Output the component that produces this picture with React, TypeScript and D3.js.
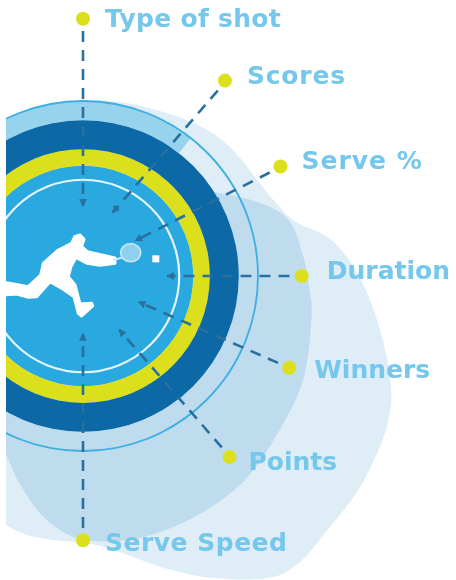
import React from "react"
import * as d3 from "d3"

// axes of the radial chart, clockwise from the top
const metrics = ["Type of shot", "Scores", "Serve %", "Duration", "Winners", "Points", "Serve Speed"]
const axisAngles = [0, 36, 61, 90, 114, 141, 180]
const axisReach = [147, 138, 129, 125, 129, 133, 151]
// where each dashed pointer ends, it doesn't quite aim at the centre
const pointerAngles = [0, 25, 56, 90, 115, 146, 180]
const pointerReach = [40, 40, 36, 48, 35, 37, 33]

// the two pale shapes behind the rings
const outerAngles = [0, 25, 45, 68, 75, 82, 93, 112, 125, 135, 146, 156, 164, 176, 197, 230, 270, 320]
const outerValues = [100, 104, 111, 117, 124, 144, 162, 190, 198, 201, 205, 189, 174, 155, 149, 114, 100, 100]
const middleAngles = [0, 55, 65, 74, 84, 94, 98, 115, 126, 142, 157, 169, 181, 189, 197, 205, 230, 300]
const middleValues = [80, 86, 104, 121, 126, 130, 132, 139, 142, 149, 152, 153, 150, 140, 124, 108, 86, 80]

// ring limits
const haloRing = [89, 100]
const darkRing = [72.5, 89]
const yellowRing = [63, 72.5]
const baseDisc = 63
const outlineRing = 100
const whiteRing = 55

// label placement next to each dot
const labelDx = [22, 22, 21, 25, 25, 19, 22]
const labelDy = [8, 3, 2, 3, 10, 13, 11]
const labelSpacing = [0.3, 0.8, 1, 0, 0, 0, 0.5]

const width = 456
const height = 580
const cx = 83
const cy = 276

const r = d3.scaleLinear().domain([0, 100]).range([0, 175])
const rad = (deg: number) => (deg * Math.PI) / 180

const blob = (angles: number[], values: number[]) =>
  d3
    .lineRadial<number>()
    .angle((d, i) => rad(angles[i]))
    .radius((d) => r(d))
    .curve(d3.curveCatmullRomClosed.alpha(0.5))(values) as string

const ring = (limits: number[], start = 0, end = 360) =>
  d3.arc()({
    innerRadius: r(limits[0]),
    outerRadius: r(limits[1]),
    startAngle: rad(start),
    endAngle: rad(end),
  }) as string

const polar = (deg: number, value: number) => {
  const [x, y] = d3.pointRadial(rad(deg), r(value))
  return { x, y }
}

const playerPath =
  "M20,308 L85,320 L122,285 L130,250 L175,210 L215,190 L224,170 L240,165 L252,178 L245,200 L262,215 L345,234 L345,250 L300,256 L262,250 L228,232 L212,262 L205,290 L225,315 L240,372 L275,370 L278,378 L245,408 L235,400 L222,350 L190,328 L150,305 L110,350 L85,352 L50,342 L20,344 Z"

export default function App() {
  return (
    <svg width={width} height={height} style={{ position: "absolute", left: 0, top: 0 }}>
      <defs>
        <clipPath id="page">
          <rect x={6} y={0} width={width} height={height} />
        </clipPath>
        <marker id="head" viewBox="0 0 10 10" refX="9" refY="5" markerWidth="3" markerHeight="3" orient="auto">
          <path d="M0,0 L10,5 L0,10 Z" fill="#2a6f9f" />
        </marker>
        <filter id="soft">
          <feGaussianBlur stdDeviation="0.6" />
        </filter>
      </defs>
      <g clipPath="url(#page)" filter="url(#soft)">
        <g transform={`translate(${cx},${cy})`}>
          <path d={blob(outerAngles, outerValues)} fill="#deedf6" />
          <path d={blob(middleAngles, middleValues)} fill="#bedcee" />
          <path d={ring(haloRing, -110, 38)} fill="#98d3ee" />
          <circle r={r(baseDisc)} fill="#29a8e0" />
          <path d={ring(yellowRing)} fill="#dce01a" />
          <path d={ring(darkRing)} fill="#0768a6" />
          <circle r={r(outlineRing)} fill="none" stroke="#3cafe2" strokeWidth={1.8} />
          <circle r={r(whiteRing)} fill="none" stroke="#e6f5fc" strokeWidth={2.2} />
          {metrics.map((m, i) => {
            const a = polar(axisAngles[i], axisReach[i] - 7)
            const b = polar(pointerAngles[i], pointerReach[i])
            return (
              <line
                key={m}
                x1={a.x}
                y1={a.y}
                x2={b.x}
                y2={b.y}
                stroke="#2a6f9f"
                strokeWidth={2.6}
                strokeDasharray="11 8"
                markerEnd="url(#head)"
              />
            )
          })}
        </g>
        <g transform="translate(0,180) scale(0.3333)">
          <path d={playerPath} fill="#fff" stroke="#fff" strokeWidth={9} strokeLinejoin="round" />
          <circle cx={238} cy={180} r={15} fill="#fff" />
          <line x1={340} y1={240} x2={370} y2={232} stroke="#cfeaf7" strokeWidth={6} />
          <ellipse cx={392} cy={218} rx={30} ry={27} fill="#8fd0ee" stroke="#c4e7f6" strokeWidth={5} />
          <rect x={457} y={226} width={21} height={21} fill="#fff" />
        </g>
        {metrics.map((m, i) => {
          const p = polar(axisAngles[i], axisReach[i])
          return (
            <g key={m} transform={`translate(${cx + p.x},${cy + p.y})`}>
              <circle r={7} fill="#dce01a" />
              <text
                x={labelDx[i]}
                y={labelDy[i]}
                fontFamily="'DejaVu Sans', sans-serif"
                fontWeight={700}
                fontSize={25}
                letterSpacing={labelSpacing[i]}
                fill="#74c7ec"
              >
                {m}
              </text>
            </g>
          )
        })}
      </g>
    </svg>
  )
}
